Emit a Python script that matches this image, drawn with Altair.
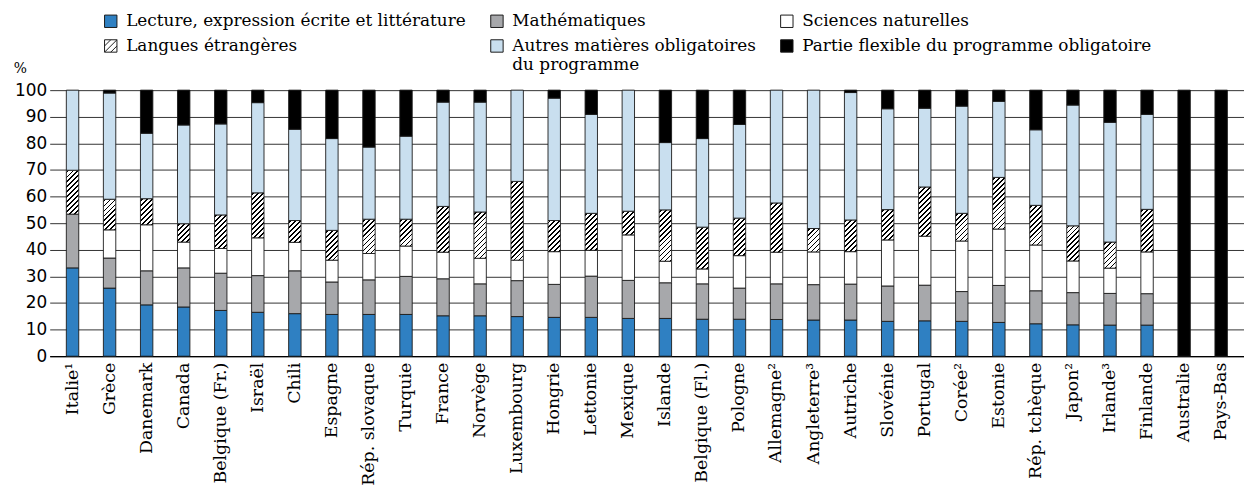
import altair as alt

countries = ["Italie¹", "Grèce", "Danemark", "Canada", "Belgique (Fr.)", "Israël", "Chili",
             "Espagne", "Rép. slovaque", "Turquie", "France", "Norvège", "Luxembourg", "Hongrie",
             "Lettonie", "Mexique", "Islande", "Belgique (Fl.)", "Pologne", "Allemagne²",
             "Angleterre³", "Autriche", "Slovénie", "Portugal", "Corée²", "Estonie",
             "Rép. tchèque", "Japon²", "Irlande³", "Finlande", "Australie", "Pays-Bas"]

lecture = [33.2, 25.6, 19.3, 18.5, 17.2, 16.5, 16.0, 15.7, 15.7, 15.7, 15.2, 15.2, 14.9, 14.6,
           14.6, 14.2, 14.2, 13.9, 13.9, 13.8, 13.6, 13.6, 13.1, 13.3, 13.1, 12.7, 12.2, 11.8,
           11.7, 11.7, 0, 0]
maths = [20.2, 11.3, 12.8, 14.7, 14.0, 13.8, 16.1, 12.2, 13.0, 14.3, 13.9, 12.0, 13.5, 12.4,
         15.5, 14.3, 13.4, 13.3, 11.7, 13.4, 13.3, 13.5, 13.3, 13.4, 11.2, 13.9, 12.4, 12.1,
         11.9, 11.8, 0, 0]
sciences = [0, 10.6, 17.3, 9.7, 9.3, 14.2, 10.7, 8.2, 9.9, 11.4, 10.0, 9.6, 7.7, 12.3, 9.7,
            17.1, 8.1, 5.6, 12.2, 11.9, 12.3, 12.2, 17.3, 18.4, 19.0, 21.2, 17.2, 11.9, 9.5,
            15.7, 0, 0]
langues = [16.5, 11.5, 9.8, 6.9, 12.6, 16.9, 8.2, 11.2, 12.9, 10.1, 17.2, 17.4, 29.6, 11.7,
           13.9, 8.9, 19.3, 15.7, 14.1, 18.5, 8.8, 11.9, 11.4, 18.5, 10.4, 19.4, 14.9, 13.2,
           9.8, 16.0, 0, 0]
autres = [30.1, 39.9, 24.6, 37.1, 34.2, 33.9, 34.3, 34.5, 27.1, 31.2, 39.2, 41.3, 34.3, 46.0,
          37.2, 45.5, 25.3, 33.3, 35.2, 42.4, 52.0, 47.9, 37.9, 29.6, 40.3, 28.6, 28.4, 45.4,
          45.0, 35.7, 0, 0]
flexible = [0, 1.1, 16.2, 13.1, 12.7, 4.7, 14.7, 18.2, 21.4, 17.3, 4.5, 4.5, 0, 3.0, 9.1, 0,
            19.7, 18.2, 12.9, 0, 0, 0.9, 7.0, 6.8, 6.0, 4.2, 14.9, 5.6, 12.1, 9.1, 100, 100]

subjects = ["Lecture, expression écrite et littérature", "Mathématiques", "Sciences naturelles",
            "Langues étrangères", "Autres matières obligatoires du programme",
            "Partie flexible du programme obligatoire"]
series = [lecture, maths, sciences, langues, autres, flexible]
colors = ["#2F80C2", "#A7A8AB", "#FFFFFF", "#FFFFFF", "#C9DFEF", "#000000"]

HATCH_PATH = "M-1,-1H1V1H-1Z M-1,0L0,-1 M-1,1L1,-1 M0,1L1,0"
shapes = ["square", "square", "square", HATCH_PATH, "square", "square"]

PLOT_W = 1203
PLOT_H = 268
BAR_W = 12.5
PX_PER_UNIT = PLOT_H / 100.0


def hatch(h_px, w_px=BAR_W, period=5.0, line=1.7):
    total = w_px + h_px
    c = total / (w_px ** 2 + h_px ** 2)
    stops = [{"offset": 0, "color": "white"}]
    pos = 1.5
    while pos < total:
        a = pos / total
        b = min(pos + line, total) / total
        stops += [{"offset": a, "color": "white"}, {"offset": a, "color": "black"},
                  {"offset": b, "color": "black"}, {"offset": b, "color": "white"}]
        pos += period
    stops.append({"offset": 1, "color": "white"})
    return {"gradient": "linear", "x1": 0, "y1": 0, "x2": c * w_px, "y2": c * h_px,
            "stops": stops}


records = []
for i, country in enumerate(countries):
    base = 0.0
    for s, name in enumerate(subjects):
        v = series[s][i]
        if v > 0:
            paint = hatch(v * PX_PER_UNIT) if s == 3 else colors[s]
            records.append({"country": country, "subject": name, "y0": base,
                            "y1": base + v, "paint": paint})
        base += v

bars = alt.Chart(alt.Data(values=records)).mark_bar(
    width=BAR_W, stroke="#1a1a1a", strokeWidth=0.9
).encode(
    x=alt.X("country:N", sort=countries, title=None,
            scale=alt.Scale(paddingInner=0.665, paddingOuter=0.449),
            axis=alt.Axis(labelAngle=-90, labelFont="DejaVu Serif", labelFontSize=17.5,
                          labelColor="black", ticks=False, labelPadding=6,
                          domainColor="black", domainWidth=1.3, labelLimit=200)),
    y=alt.Y("y0:Q", title="%", scale=alt.Scale(domain=[0, 100], nice=False),
            axis=alt.Axis(values=list(range(0, 101, 10)), grid=True, gridColor="#333333",
                          gridWidth=1, domain=False, ticks=False, labelPadding=3,
                          labelFont="DejaVu Sans", labelFontSize=17, labelColor="black",
                          titleAngle=0, titleX=-30, titleY=-18, titleAlign="center",
                          titleBaseline="alphabetic", titleFont="DejaVu Serif",
                          titleFontSize=14, titleFontWeight="normal", titleColor="black")),
    y2="y1:Q",
    color=alt.Color("paint:N", scale=None, legend=None),
)

legend_def = dict(
    title=None, orient="none", legendX=53, legendY=-78, columns=3, direction="horizontal",
    symbolSize=156, symbolStrokeWidth=1,
    labelFont="DejaVu Serif", labelFontSize=17, labelColor="black", labelOffset=7,
    columnPadding=22, rowPadding=7, labelLimit=500,
    labelExpr="datum.label == 'Autres matières obligatoires du programme' ? "
              "['Autres matières obligatoires', 'du programme'] : datum.label",
)

legend_layer = alt.Chart(alt.Data(values=[{"subject": s} for s in subjects])).mark_point(
    filled=True, strokeWidth=1, opacity=1
).encode(
    fill=alt.Fill("subject:N", scale=alt.Scale(domain=subjects, range=colors),
                  legend=alt.Legend(**legend_def)),
    shape=alt.Shape("subject:N", scale=alt.Scale(domain=subjects, range=shapes),
                    legend=alt.Legend(**legend_def)),
    stroke=alt.Stroke("subject:N", scale=alt.Scale(domain=subjects, range=["#1a1a1a"] * 6),
                      legend=alt.Legend(**legend_def)),
).transform_filter("false")

chart = alt.layer(bars, legend_layer).properties(
    width=PLOT_W, height=PLOT_H,
    autosize=alt.AutoSizeParams(type="none"),
    padding={"left": 42, "top": 81, "right": 0, "bottom": 131},
).configure_view(stroke=None)

chart.save("out.html", embed_options={"renderer": "svg", "actions": False})
